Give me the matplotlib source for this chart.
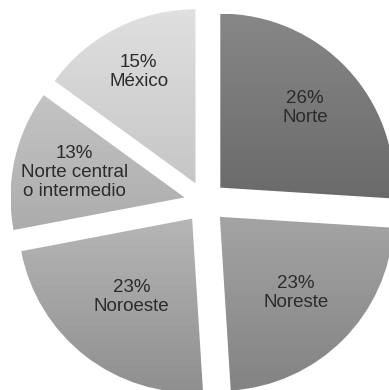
import numpy as np
import matplotlib
matplotlib.use('Agg')
import matplotlib.pyplot as plt
from matplotlib.colors import LinearSegmentedColormap

regions = ['Norte', 'Noreste', 'Noroeste', 'Norte central\no intermedio', 'México']
shares = [26, 23, 23, 13, 15]
# top / bottom shade of each slice (vertical gradient)
tops = ['#878787', '#a4a4a4', '#b5b6b5', '#c4c4c4', '#e0e0e0']
bottoms = ['#6a6a6a', '#838383', '#8f8f8f', '#acacac', '#c6c6c6']
label_r = [0.67, 0.62, 0.57, 0.65, 0.72]

fig = plt.figure(figsize=(3.89, 3.90), dpi=100)
ax = fig.add_axes([0, 0, 1, 1])
R = 174
wedges, _ = ax.pie(shares, startangle=90, counterclock=False, radius=R,
                   center=(205, 188), explode=[21] * 5,
                   wedgeprops=dict(linewidth=0))

for w, top, bot, lab, pct, lr in zip(wedges, tops, bottoms, regions, shares, label_r):
    x0, y0, x1, y1 = w.get_path().get_extents().extents
    cmap = LinearSegmentedColormap.from_list('g', [bot, top])
    grad = np.linspace(0, 1, 256).reshape(-1, 1)
    im = ax.imshow(grad, cmap=cmap, extent=(x0, x1, y0, y1), origin='lower',
                   aspect='auto', interpolation='bilinear', zorder=2)
    im.set_clip_path(w)
    w.set_facecolor('none')
    th = np.deg2rad((w.theta1 + w.theta2) / 2)
    cx, cy = w.center
    ax.text(cx + lr * R * np.cos(th), cy + lr * R * np.sin(th), f'{pct}%\n{lab}',
            ha='center', va='center', fontsize=13.5, color='#2b2b2b',
            family='Liberation Sans', linespacing=1.15, zorder=3)

ax.set_xlim(0, 389)
ax.set_ylim(0, 390)
ax.set_aspect('equal')
ax.axis('off')
fig.savefig('out.png', dpi=100)
